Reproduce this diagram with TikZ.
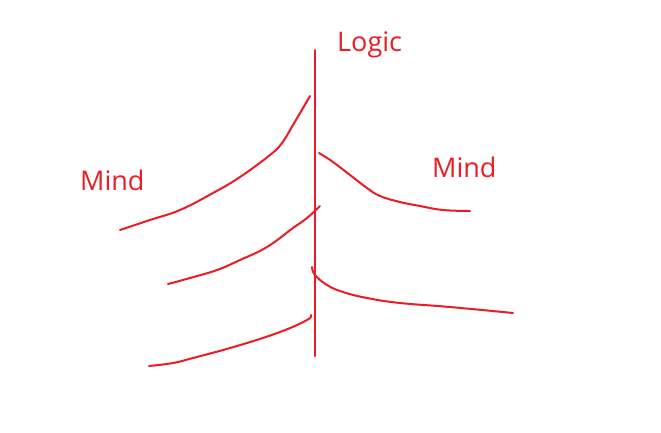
\documentclass[tikz,border=0pt]{standalone}
\usepackage{fontspec}
\setmainfont{Open Sans}
\definecolor{paintred}{RGB}{237,28,36}
\begin{document}
\begin{tikzpicture}[x=1pt,y=-1pt,
  stroke/.style={draw=paintred,line width=2pt,line cap=round,line join=round},
  lbl/.style={text=paintred,font=\fontsize{27}{32}\selectfont,anchor=base west,inner sep=0pt}]
\useasboundingbox[fill=white] (0,0) rectangle (661,432);
\coordinate (top) at (315,50);
\coordinate (bottom) at (315,356);
\draw[stroke] (top) -- (bottom);
\node[lbl] (logic) at (337,51) {Logic};
\node[lbl] (mindL) at (80,190) {Mind};
\node[lbl] (mindR) at (432,177) {Mind};
\draw[stroke] plot[smooth,tension=0.7] coordinates {(120,230) (150,220) (180,210) (213,193) (240,177) (270,155) (282,143) (293,125) (310,96)};
\draw[stroke] plot[smooth,tension=0.7] coordinates {(319,153) (333,162) (350,175) (367,188) (380,196) (400,202) (420,206) (443,210) (470,211)};
\draw[stroke] plot[smooth,tension=0.7] coordinates {(168,284) (190,278) (217,270) (240,260) (267,247) (293,228) (307,218) (320,206)};
\draw[stroke] plot[smooth,tension=0.7] coordinates {(312,267) (315,275) (327,285) (343,292) (367,298) (400,303) (450,307) (513,313)};
\draw[stroke] plot[smooth,tension=0.7] coordinates {(149,366) (173,363) (193,358) (237,346) (280,332) (307,320) (311,315)};
\end{tikzpicture}
\end{document}
